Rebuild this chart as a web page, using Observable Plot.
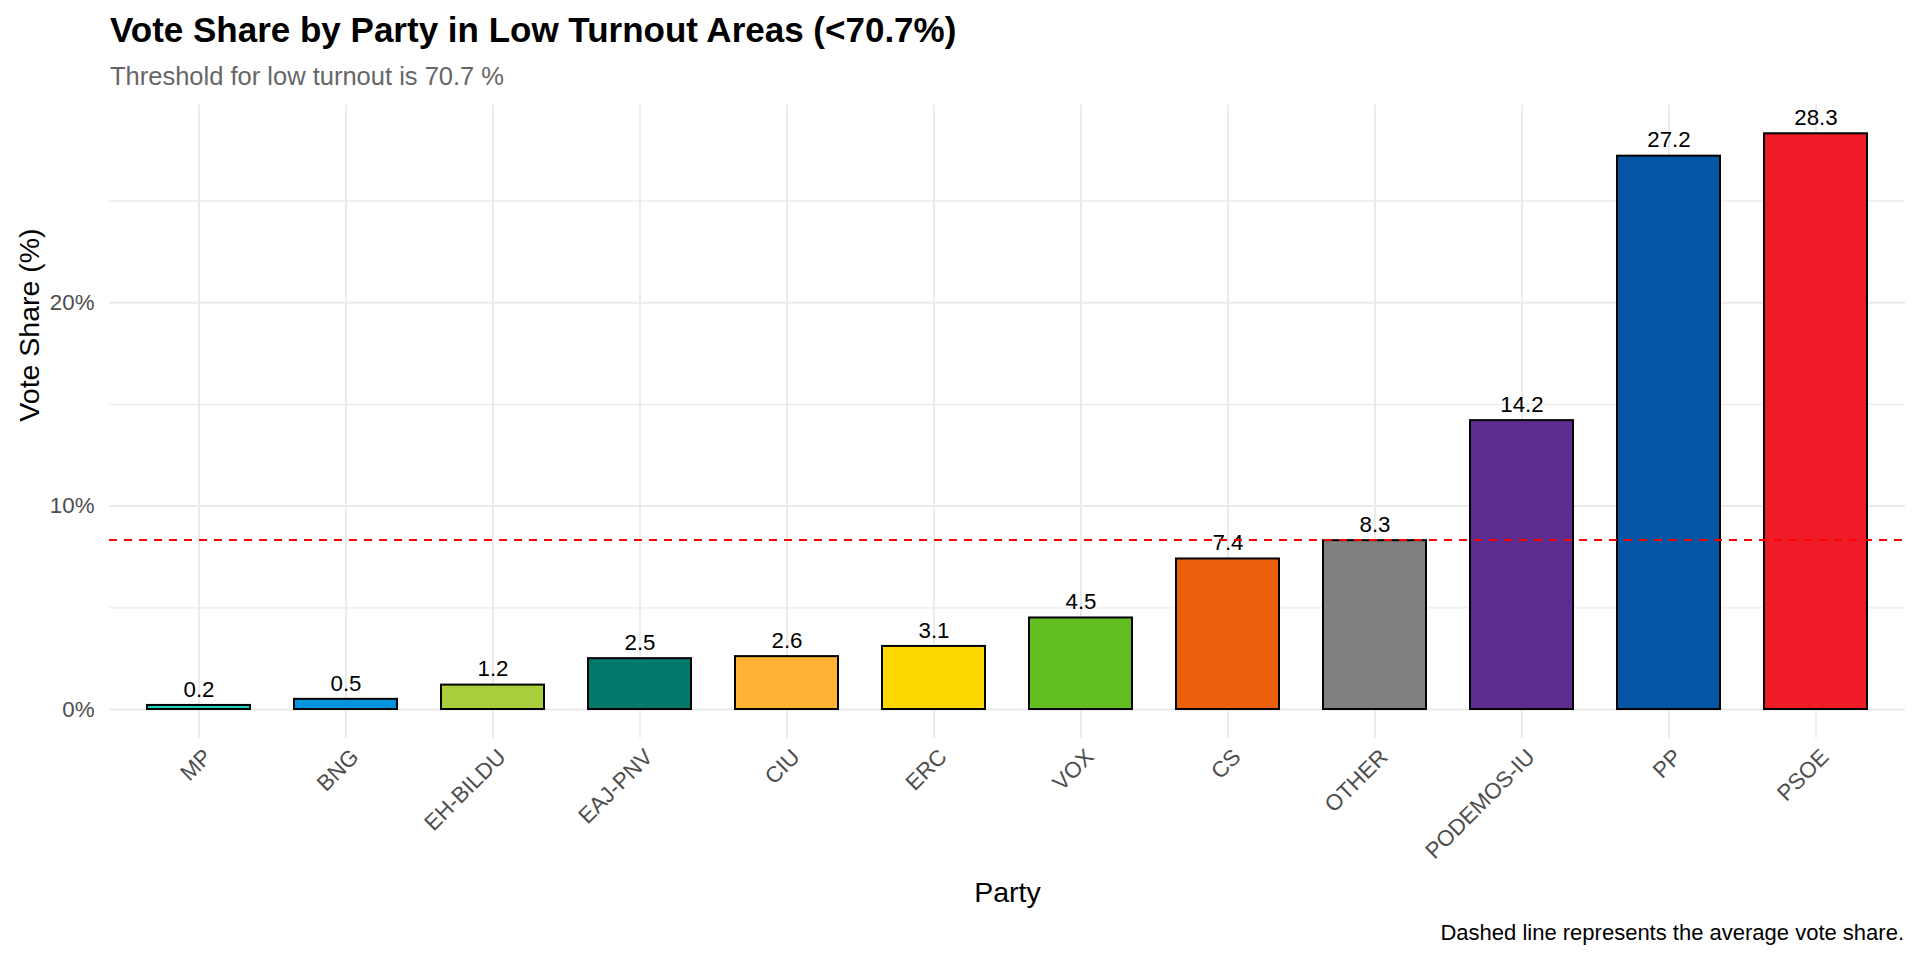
<!DOCTYPE html>
<html>
<head>
<meta charset="utf-8">
<script src="https://cdn.jsdelivr.net/npm/d3@7"></script>
<script src="https://cdn.jsdelivr.net/npm/@observablehq/plot@0.6"></script>
<style>
  html, body { margin: 0; padding: 0; background: #ffffff; }
  #wrap { position: relative; width: 1920px; height: 960px; background: #ffffff; font-family: "Liberation Sans", Arial, sans-serif; overflow: hidden; }
  #title { position: absolute; left: 110px; top: 12.1px; font-size: 35px; line-height: 35px; font-weight: bold; color: #000; white-space: nowrap; }
  #subtitle { position: absolute; left: 110px; top: 63.8px; font-size: 25.5px; line-height: 25.5px; color: #666666; white-space: nowrap; }
  #chart { position: absolute; left: 0; top: 100px; }
  #caption { position: absolute; right: 16px; top: 922px; font-size: 22px; line-height: 22px; color: #000; white-space: nowrap; }
</style>
</head>
<body>
<div id="wrap">
  <div id="title"></div>
  <div id="subtitle"></div>
  <div id="chart"></div>
  <div id="caption"></div>
</div>
<script>
const titleText = "Vote Share by Party in Low Turnout Areas (<70.7%)";
const subtitleText = "Threshold for low turnout is 70.7 %";
const captionText = "Dashed line represents the average vote share.";
const xTitle = "Party";
const yTitle = "Vote Share (%)";

const parties = ["MP", "BNG", "EH-BILDU", "EAJ-PNV", "CIU", "ERC", "VOX", "CS", "OTHER", "PODEMOS-IU", "PP", "PSOE"];
const shares = [0.2, 0.5, 1.2, 2.5, 2.6, 3.1, 4.5, 7.4, 8.3, 14.2, 27.2, 28.3];
const partyColors = ["#1ad2be", "#0095dc", "#a8cf3a", "#01796b", "#ffb233", "#ffd700", "#63be21", "#eb610b", "#808080", "#5c2d8f", "#0455a4", "#ef1c27"];
const majorTicks = [0, 10, 20];
const minorTicks = [5, 15, 25];

document.getElementById("title").textContent = titleText;
document.getElementById("subtitle").textContent = subtitleText;
document.getElementById("caption").textContent = captionText;

const data = parties.map((p, i) => ({party: p, share: shares[i]}));
const avg = d3.mean(shares);
const yMax = d3.max(shares);

const chart = Plot.plot({
  width: 1920,
  height: 820,
  marginLeft: 109,
  marginRight: 15,
  marginTop: 4.5,
  marginBottom: 182.2,
  style: {fontFamily: "'Liberation Sans', Arial, sans-serif", background: "transparent", overflow: "visible"},
  x: {type: "band", domain: parties, paddingInner: 0.3, paddingOuter: 0.25, axis: null},
  y: {domain: [-0.05 * yMax, 1.05 * yMax], axis: null},
  color: {domain: parties, range: partyColors},
  marks: [
    Plot.gridY(minorTicks, {stroke: "#ebebeb", strokeOpacity: 1, strokeWidth: 1.2}),
    Plot.gridY(majorTicks, {stroke: "#ebebeb", strokeOpacity: 1, strokeWidth: 2}),
    Plot.gridX(parties, {stroke: "#ebebeb", strokeOpacity: 1, strokeWidth: 2}),
    Plot.barY(data, {x: "party", y: "share", fill: "party", stroke: "black", strokeWidth: 2, inset: 0}),
    Plot.text(data, {x: "party", y: "share", text: d => d.share.toFixed(1), lineAnchor: "bottom", dy: -8.7, fontSize: 22.3, fill: "black"}),
    Plot.ruleY([avg], {stroke: "#ff0000", strokeWidth: 1.8, strokeDasharray: "8,7"}),
    Plot.axisY(majorTicks, {tickFormat: d => d + "%", tickSize: 0, tickPadding: 15, fontSize: 22.3, color: "#4d4d4d", label: null}),
    Plot.axisX({tickRotate: -45, tickSize: 0, tickPadding: 15, dx: 9, fontSize: 22.3, color: "#4d4d4d", label: null}),
    Plot.text([xTitle], {frameAnchor: "bottom", text: d => d, lineAnchor: "middle", dy: 154.9, fontSize: 28.5, fill: "black"}),
    Plot.text([yTitle], {frameAnchor: "left", text: d => d, rotate: -90, lineAnchor: "middle", dx: -79.7, fontSize: 28.5, fill: "black"})
  ]
});
document.getElementById("chart").appendChild(chart);
</script>
</body>
</html>
